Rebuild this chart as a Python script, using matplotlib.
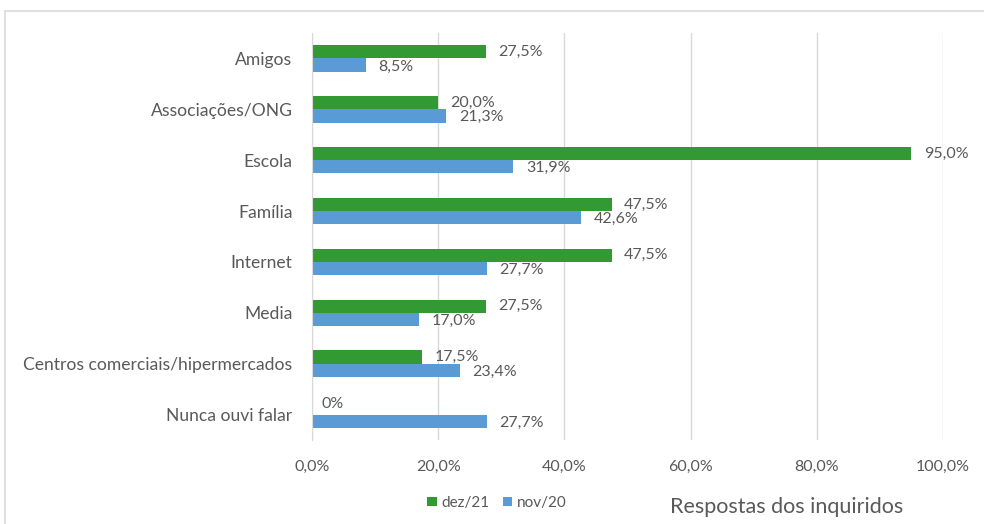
import matplotlib
matplotlib.use("Agg")
import matplotlib.pyplot as plt
import numpy as np

categories = ["Amigos", "Associações/ONG", "Escola", "Família", "Internet", "Media",
              "Centros comerciais/hipermercados", "Nunca ouvi falar"]
dez21 = [27.5, 20.0, 95.0, 47.5, 47.5, 27.5, 17.5, 0.0]
nov20 = [8.5, 21.3, 31.9, 42.6, 27.7, 17.0, 23.4, 27.7]
xticks = [0, 20, 40, 60, 80, 100]

plt.rcParams['font.family'] = ['Lato', 'DejaVu Sans']
tc = '#595959'
green = '#339933'
blue = '#5B9BD5'
fs = 11.5

fig = plt.figure(figsize=(9.84, 5.24), dpi=100)
# outer border
fig.patches.append(plt.Rectangle((5/984, -0.05), 1.2, 1 - 11/524 + 0.05, transform=fig.transFigure,
                                 fill=False, edgecolor='#D9D9D9', linewidth=1.2))
ax = fig.add_axes([312/984, 1 - 440/524, (943 - 312)/984, (440 - 33)/524])

y = np.arange(len(categories))
h = 0.26
ax.barh(y - h/2, dez21, height=h, color=green, label='dez/21', zorder=3)
ax.barh(y + h/2, nov20, height=h, color=blue, label='nov/20', zorder=3)

def fmt(v):
    if v == 0:
        return "0%"
    return f"{v:.1f}%".replace('.', ',')

for i, v in enumerate(dez21):
    if v == 0:
        ax.annotate(fmt(v), (v, i - h/2), xytext=(7, 3), textcoords='offset points',
                    va='center', ha='left', fontsize=fs, color=tc)
    else:
        ax.annotate(fmt(v), (v, i - h/2), xytext=(9, 0), textcoords='offset points',
                    va='center', ha='left', fontsize=fs, color=tc)
for i, v in enumerate(nov20):
    ax.annotate(fmt(v), (v, i + h/2), xytext=(9, -1), textcoords='offset points',
                va='center', ha='left', fontsize=fs, color=tc)

ax.set_xlim(0, 100)
ax.set_ylim(len(categories) - 0.5, -0.5)
ax.set_yticks(y)
ax.set_yticklabels(categories, fontsize=12.6, color=tc)
ax.set_xticks(xticks)
ax.set_xticklabels([f"{t:.1f}%".replace('.', ',') for t in xticks], fontsize=fs, color=tc)
ax.tick_params(axis='y', length=0, pad=14)
ax.tick_params(axis='x', length=0, pad=14)
ax.xaxis.grid(True, color='#D9D9D9', linewidth=1, zorder=0)
for s in ['top', 'right', 'bottom']:
    ax.spines[s].set_visible(False)
ax.spines['left'].set_color('#D9D9D9')
ax.spines['left'].set_zorder(4)

handles, labels = ax.get_legend_handles_labels()
fig.legend(handles, labels, loc='center', bbox_to_anchor=(497/984, 1 - 503/524), ncol=2,
           frameon=False, fontsize=11, handlelength=0.6, handleheight=0.6,
           handletextpad=0.3, columnspacing=0.9, labelcolor=tc)
fig.text(787/984, 1 - 507/524, "Respostas dos inquiridos", ha='center', va='center',
         fontsize=15.5, color=tc)

fig.savefig("out.png", dpi=100)
